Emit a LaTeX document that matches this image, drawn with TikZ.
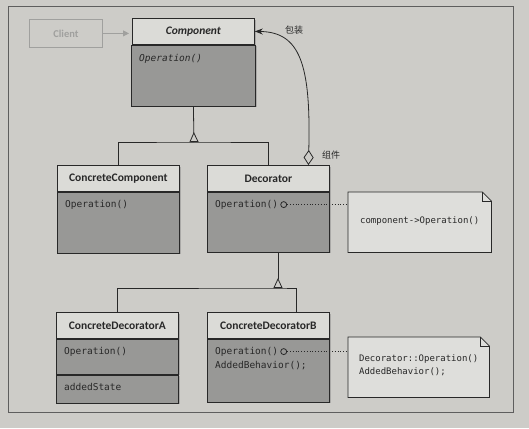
\documentclass[tikz,border=0pt]{standalone}
\usepackage{fontspec}
\setsansfont{Carlito}
\setmonofont{DejaVu Sans Mono}
\newfontfamily\cjk{Noto Sans CJK SC}
\usepackage{xcolor}
\usepackage{tikz}
\usetikzlibrary{positioning,arrows.meta,shadows}
\definecolor{paper}{RGB}{205,204,200}
\definecolor{headgray}{RGB}{219,219,215}
\definecolor{bodygray}{RGB}{152,152,150}
\definecolor{notegray}{RGB}{222,222,219}
\definecolor{ink}{RGB}{40,40,40}
\definecolor{faint}{RGB}{160,160,158}

\begin{document}
\begin{tikzpicture}[
                    x=1pt, y=-1pt,
                    >=stealth,
                    classhead/.style={draw=ink, fill=headgray, thick, minimum width=122pt, minimum height=26pt, inner sep=0pt, anchor=north west, font=\sffamily\bfseries\fontsize{11.5}{13}\selectfont, text=ink, drop shadow={shadow xshift=1.2pt, shadow yshift=-1.2pt, opacity=.45}},
                    classbody/.style={draw=ink, fill=bodygray, thick, minimum width=122pt, inner sep=0pt, drop shadow={shadow xshift=1.2pt, shadow yshift=-1.2pt, opacity=.45}},
                    meth/.style={anchor=north west, inner sep=0pt, font=\ttfamily\fontsize{9.5}{12}\selectfont, text=ink},
                    port/.style={circle, draw=ink, thick, fill=bodygray, minimum size=6pt, inner sep=0pt},
                    noteframe/.style={minimum height=60pt, inner sep=0pt, anchor=north west},
                    notetext/.style={inner sep=0pt, align=left, font=\ttfamily\fontsize{9}{13}\selectfont, text=ink},
                    cjklabel/.style={font=\cjk\fontsize{9}{11}\selectfont, text=ink, inner sep=0pt},
                    inherit/.style={draw=ink, thick, {Triangle[open, reversed, length=10pt, width=9pt]}-},
                    link/.style={draw=ink, thick},
                    dots/.style={draw=ink, thick, dotted}
            ]
                \fill[paper] (0,0) rectangle (529,428);
                \useasboundingbox (0,0) rectangle (529,428);
                \draw[ink!75, thin] (8,6) rectangle (513,412);

                \node[draw=faint, fill=paper, thick, minimum width=73pt, minimum height=28pt, inner sep=0pt, anchor=north west, font=\sffamily\bfseries\fontsize{10.5}{12}\selectfont, text=faint] (client) at (29,19) {Client};

                \node[classhead] (comp) at (132,18) {\itshape Component};
                \node[classbody, minimum width=124pt, minimum height=61pt, below=0pt of comp] (compb) {};
                \node[meth] (compop) at ([shift={(8pt,-9pt)}]compb.north west) {\itshape Operation()};
                \draw[faint, thick, -{Triangle[length=6pt, width=6pt]}, shorten >=3pt] (client.east) -- (client.east -| comp.west);

                \node[classhead] (ccomp) at (57,165) {ConcreteComponent};
                \node[classbody, minimum height=61pt, below=0pt of ccomp] (ccompb) {};
                \node[meth] (ccompop) at ([shift={(8pt,-8pt)}]ccompb.north west) {Operation()};

                \node[classhead] (dec) at (207,165) {Decorator};
                \node[classbody, minimum height=60pt, below=0pt of dec] (decb) {};
                \node[meth] (decop) at ([shift={(8pt,-8pt)}]decb.north west) {Operation()};
                \node[port, right=2pt of decop] (decport) {};

                \node[classhead] (cda) at (56,312) {ConcreteDecoratorA};
                \node[classbody, minimum height=35pt, below=0pt of cda] (cdab) {};
                \node[classbody, minimum height=28pt, below=0pt of cdab] (cdas) {};
                \node[meth] (cdaop) at ([shift={(8pt,-8pt)}]cdab.north west) {Operation()};
                \node[meth] (cdastate) at ([shift={(8pt,-8pt)}]cdas.north west) {addedState};

                \node[classhead] (cdb) at (207,312) {ConcreteDecoratorB};
                \node[classbody, minimum height=63pt, below=0pt of cdb] (cdbb) {};
                \node[meth] (cdbop) at ([shift={(8pt,-8pt)}]cdbb.north west) {Operation()};
                \node[meth] (cdbadd) at ([yshift=-5pt]cdbop.south west) {AddedBehavior();};
                \node[port, right=2pt of cdbop] (cdbport) {};

                \coordinate (j1) at (194,142);
                \coordinate (j2) at (278,288);
                \draw[link] (ccomp.north) |- (j1) -| (dec.north);
                \draw[inherit] (j1) -- (compb.south);
                \draw[link] (cda.north) |- (j2) -| ([xshift=28pt]cdb.north);
                \draw[inherit] (j2) -- (j2 |- decb.south);

                \draw[draw=ink, thick, {Diamond[open, length=15pt, width=10pt]}-{Stealth[length=8pt, width=6pt]}] ([xshift=40pt]dec.north) .. controls (311,64) and (300,32) .. (comp.east);
                \node[cjklabel] (wrap) at (294,30) {包装};
                \node[cjklabel] (compname) at (331,155) {组件};

                \node[noteframe, minimum width=143pt] (note1) at (348,192) {};
                \node[noteframe, minimum width=141pt] (note2) at (348,337) {};
                \foreach \n in {note1, note2} {
                    \filldraw[draw=ink, thick, fill=notegray] (\n.north west) -- ([xshift=-9pt]\n.north east) -- ([yshift=-9pt]\n.north east) -- (\n.south east) -- (\n.south west) -- cycle;
                    \draw[ink, thick] ([xshift=-9pt]\n.north east) -- ([xshift=-9pt, yshift=-9pt]\n.north east) -- ([yshift=-9pt]\n.north east);
                }
                \node[notetext] (note1txt) at ([yshift=1pt]note1.center) {component->Operation()};
                \node[notetext] (note2txt) at ([yshift=2pt]note2.center) {Decorator::Operation()\\AddedBehavior();};

                \draw[dots] (decport.east) -- (decport.east -| note1.west);
                \draw[dots] (cdbport.east) -- (cdbport.east -| note2.west);
            \end{tikzpicture}
\end{document}
